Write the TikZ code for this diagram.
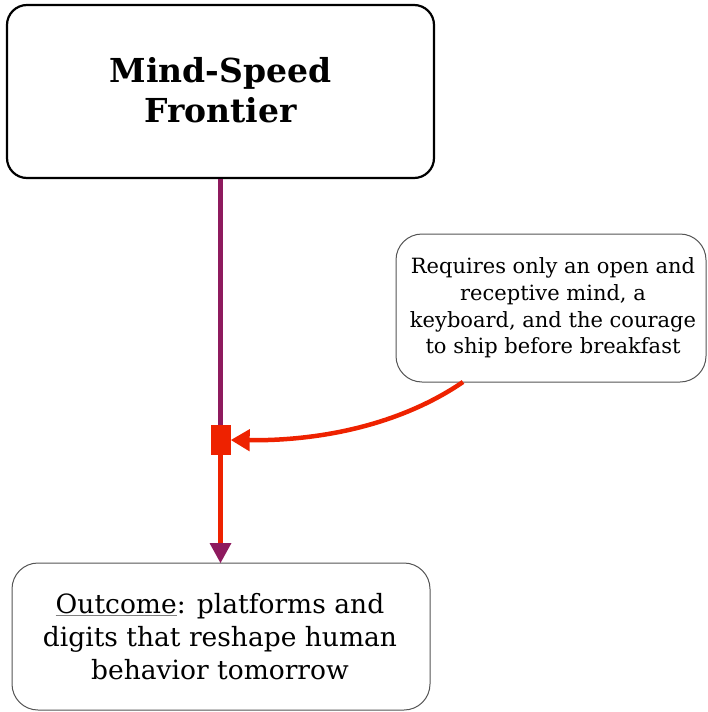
\documentclass[tikz,border=0pt]{standalone}
\usepackage{fontspec}
\setmainfont{DejaVu Serif}
\usetikzlibrary{arrows.meta}
\definecolor{plum}{HTML}{8E1A5E}
\definecolor{signal}{HTML}{EE2200}
\definecolor{edge}{HTML}{555555}
\tikzset{
  x=1pt, y=-1pt,
  titlebox/.style={draw=black, line width=2.2pt, rounded corners=20pt, fill=white},
  softbox/.style={draw=edge, line width=1pt, rounded corners=26pt, fill=white},
  flow/.style={line width=4.5pt, line cap=butt},
}
\begin{document}
\begin{tikzpicture}
\useasboundingbox (0,0) rectangle (707,712);
% boxes
\draw[titlebox] (7,5) rectangle (434,178);
\draw[softbox] (396,234) rectangle (706,382);
\draw[softbox] (12,563) rectangle (430,710);
\coordinate (topout) at (220.5,179);
\coordinate (arrowbase) at (220.5,544);
\coordinate (noteout) at (463,382);
% texts
\node[font=\fontsize{33}{40}\selectfont\bfseries, align=center] (title) at (220.5,90) {Mind-Speed\\Frontier};
\node[font=\fontsize{21}{26.8}\selectfont, align=center] (note) at (553,308) {Requires only an open and\\receptive mind, a\\keyboard, and the courage\\to ship before breakfast};
\node[font=\fontsize{26.5}{33}\selectfont, align=center] (outcome) at (220,637) {{\color{gray}\underline{\color{black}Outcome}}: platforms and\\digits that reshape human\\behavior tomorrow};
% junction
\node[fill=signal, minimum width=20pt, minimum height=30pt, inner sep=0pt] (junction) at (220.5,440) {};
% flow
\draw[flow, plum] (topout) -- (junction.north);
\draw[flow, signal] (junction.south) -- (arrowbase);
\fill[plum] (209.5,543) -- (231.5,543) -- (220.5,563) -- cycle;
\draw[signal, line width=4.5pt, -{Triangle[length=19pt,width=21pt]}] (noteout) .. controls (400,425) and (320,441) .. (junction.east);
\end{tikzpicture}
\end{document}
